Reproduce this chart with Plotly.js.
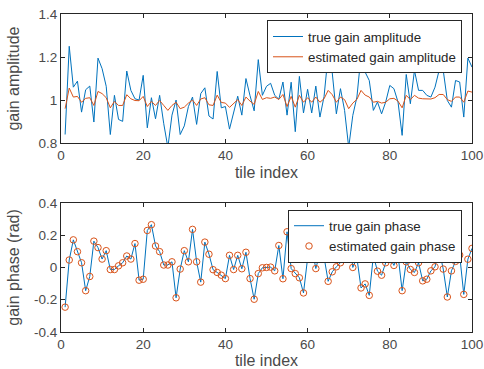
<!DOCTYPE html>
<html>
<head>
<meta charset="utf-8">
<script src="https://cdn.plot.ly/plotly-3.0.1.min.js"></script>
<style>
html,body{margin:0;padding:0;background:#fff;}
#chart{width:484px;height:369px;}
</style>
</head>
<body>
<div id="chart"></div>
<script>
const tileIndex = [1,2,3,4,5,6,7,8,9,10,11,12,13,14,15,16,17,18,19,20,21,22,23,24,25,26,27,28,29,30,31,32,33,34,35,36,37,38,39,40,41,42,43,44,45,46,47,48,49,50,51,52,53,54,55,56,57,58,59,60,61,62,63,64,65,66,67,68,69,70,71,72,73,74,75,76,77,78,79,80,81,82,83,84,85,86,87,88,89,90,91,92,93,94,95,96,97,98,99,100];

const trueAmp = [0.84,1.25,1.06,1.088,0.944,1.048,1.065,0.898,1.195,1.146,
1.064,0.84,1.022,0.91,0.901,1.135,1.045,1.006,1.0,1.115,
0.871,1.011,0.913,1.022,0.89,0.78,0.93,1.0,0.84,0.88,
0.97,1.014,0.887,1.03,1.057,0.926,0.912,1.133,0.964,0.97,
0.865,0.94,1.018,0.93,1.1,1.02,0.95,1.188,1.022,1.064,
1.078,1.022,1.004,1.084,0.93,1.083,0.853,1.11,0.94,1.05,
0.94,1.065,0.921,1.016,1.21,1.126,0.936,1.053,0.952,0.78,
0.929,1.014,1.208,1.13,1.091,0.952,0.991,0.936,0.991,1.068,
1.053,0.991,0.836,1.119,0.983,1.138,1.045,1.045,1.022,1.014,
1.06,1.138,1.138,0.998,0.967,1.091,1.084,0.921,1.195,1.153];

const estAmp = [0.96,1.056,1.014,1.017,0.99,1.008,1.011,0.975,1.04,1.03,
1.011,0.964,0.994,0.975,0.975,1.025,1.006,0.998,0.997,1.017,
0.97,0.994,0.975,0.998,0.975,0.952,0.975,0.99,0.96,0.967,
0.986,1.0,0.975,1.005,1.011,0.978,0.975,1.023,0.989,0.986,
0.966,0.983,1.002,0.975,1.014,0.995,0.98,1.04,1.003,1.011,
1.008,1.014,1.003,1.026,0.97,1.017,0.967,1.022,0.99,1.011,
0.99,1.014,0.99,1.006,1.045,1.025,0.99,1.014,1.002,0.96,
0.986,1.003,1.045,1.023,1.014,0.99,0.994,0.986,0.99,1.006,
1.008,0.995,0.964,1.022,1.002,1.022,1.009,1.006,1.006,1.005,
1.011,1.026,1.026,1.002,0.994,1.014,1.014,0.99,1.042,1.037];

const truePhase = [-0.246,0.046,0.171,0.098,0.029,-0.144,-0.056,0.163,0.123,0.052,
0.104,-0.013,-0.013,0.010,0.029,0.071,0.052,0.148,-0.079,-0.073,
0.229,0.265,0.133,0.098,0.015,0.015,0.035,-0.188,-0.010,0.104,
0.035,0.236,0.035,-0.091,0.157,0.082,-0.014,-0.031,-0.048,-0.069,
0.075,-0.013,0.075,-0.008,0.094,-0.069,-0.197,-0.038,-0.002,0.0,
0.002,-0.021,0.136,-0.070,0.221,-0.007,-0.038,-0.064,-0.158,0.057,
0.129,-0.007,0.092,0.065,-0.086,-0.027,0.004,0.029,0.132,0.22,
0.0,0.059,-0.127,-0.102,-0.173,0.073,-0.023,-0.048,0.029,0.0625,
0.0125,0.077,-0.144,0.035,-0.0125,-0.031,0.029,-0.083,-0.073,-0.021,
0.004,0.11,-0.010,-0.183,-0.021,0.0375,0.077,-0.167,0.051,0.118];

const estPhase = [-0.246,0.046,0.171,0.098,0.029,-0.144,-0.056,0.163,0.123,0.052,
0.104,-0.013,-0.013,0.010,0.029,0.071,0.052,0.148,-0.079,-0.073,
0.229,0.265,0.133,0.098,0.015,0.015,0.035,-0.188,-0.010,0.104,
0.035,0.236,0.035,-0.091,0.157,0.082,-0.014,-0.031,-0.048,-0.069,
0.075,-0.013,0.075,-0.008,0.094,-0.069,-0.197,-0.038,-0.002,0.0,
0.002,-0.021,0.136,-0.070,0.221,-0.007,-0.038,-0.064,-0.158,0.057,
0.129,-0.007,0.092,0.065,-0.086,-0.027,0.004,0.029,0.132,0.22,
0.0,0.059,-0.127,-0.102,-0.173,0.073,-0.023,-0.048,0.029,0.0625,
0.0125,0.077,-0.144,0.035,-0.0125,-0.031,0.029,-0.083,-0.073,-0.021,
0.004,0.11,-0.010,-0.183,-0.021,0.0375,0.077,-0.167,0.051,0.118];

const xTickVals = [0,20,40,60,80,100];
const xTickText = ['0','20','40','60','80','100'];
const ampTickVals = [0.8,1,1.2,1.4];
const ampTickText = ['0.8','1','1.2','1.4'];
const phaseTickVals = [-0.4,-0.2,0,0.2,0.4];
const phaseTickText = ['-0.4','-0.2','0','0.2','0.4'];

const names = ['true gain amplitude','estimated gain amplitude','true gain phase','estimated gain phase'];
const xTitle = 'tile index';
const ampTitle = 'gain amplitude';
const phaseTitle = 'gain phase (rad)';

const BLUE = '#0072BD', RED = '#D95319', AX = '#262626', TXT = '#4a4a4a';
const FONT = 'Liberation Sans, Arial, Helvetica, sans-serif';

const traces = [
  {x: tileIndex, y: trueAmp, type:'scatter', mode:'lines', name:names[0],
   line:{color:BLUE, width:1}, xaxis:'x', yaxis:'y', legend:'legend'},
  {x: tileIndex, y: estAmp, type:'scatter', mode:'lines', name:names[1],
   line:{color:RED, width:1}, xaxis:'x', yaxis:'y', legend:'legend'},
  {x: tileIndex, y: truePhase, type:'scatter', mode:'lines', name:names[2],
   line:{color:BLUE, width:1}, xaxis:'x2', yaxis:'y2', legend:'legend2'},
  {x: tileIndex, y: estPhase, type:'scatter', mode:'markers', name:names[3],
   marker:{symbol:'circle-open', color:RED, size:6.5, line:{width:1, color:RED}},
   xaxis:'x2', yaxis:'y2', legend:'legend2'}
];

function xAxis(anchor){
  return {range:[0,100], tickvals:xTickVals, ticktext:xTickText, anchor:anchor,
    showline:true, linecolor:AX, linewidth:1, mirror:'ticks', ticks:'inside',
    ticklen:4, tickcolor:AX, zeroline:false, showgrid:false,
    tickfont:{family:FONT, size:13.5, color:TXT},
    title:{text:xTitle, font:{family:FONT, size:16, color:TXT}, standoff:4}};
}
function yAxis(range, vals, text, title, domain, anchor){
  return {range:range, tickvals:vals, ticktext:text, domain:domain, anchor:anchor,
    showline:true, linecolor:AX, linewidth:1, mirror:'ticks', ticks:'inside',
    ticklen:4, tickcolor:AX, zeroline:false, showgrid:false,
    tickfont:{family:FONT, size:13.5, color:TXT},
    title:{text:title, font:{family:FONT, size:16, color:TXT}}};
}

const layout = {
  width:484, height:369,
  margin:{l:61, r:12, t:14, b:37},
  paper_bgcolor:'#fff', plot_bgcolor:'#fff',
  showlegend:true,
  xaxis: Object.assign(xAxis('y'), {domain:[0,1]}),
  yaxis: yAxis([0.8,1.4], ampTickVals, ampTickText, ampTitle, [0.594,1], 'x'),
  xaxis2: Object.assign(xAxis('y2'), {domain:[0,1]}),
  yaxis2: yAxis([-0.4,0.4], phaseTickVals, phaseTickText, phaseTitle, [0,0.406], 'x2'),
  legend:{x:0.9757, y:0.98, xanchor:'right', yanchor:'top', bgcolor:'#fff',
    bordercolor:AX, borderwidth:1, font:{family:FONT, size:13.3, color:AX},
    tracegroupgap:0},
  legend2:{x:0.9757, y:0.385, xanchor:'right', yanchor:'top', bgcolor:'#fff',
    bordercolor:AX, borderwidth:1, font:{family:FONT, size:13.3, color:AX},
    tracegroupgap:0}
};

Plotly.newPlot('chart', traces, layout, {staticPlot:true, displayModeBar:false});
</script>
</body>
</html>
